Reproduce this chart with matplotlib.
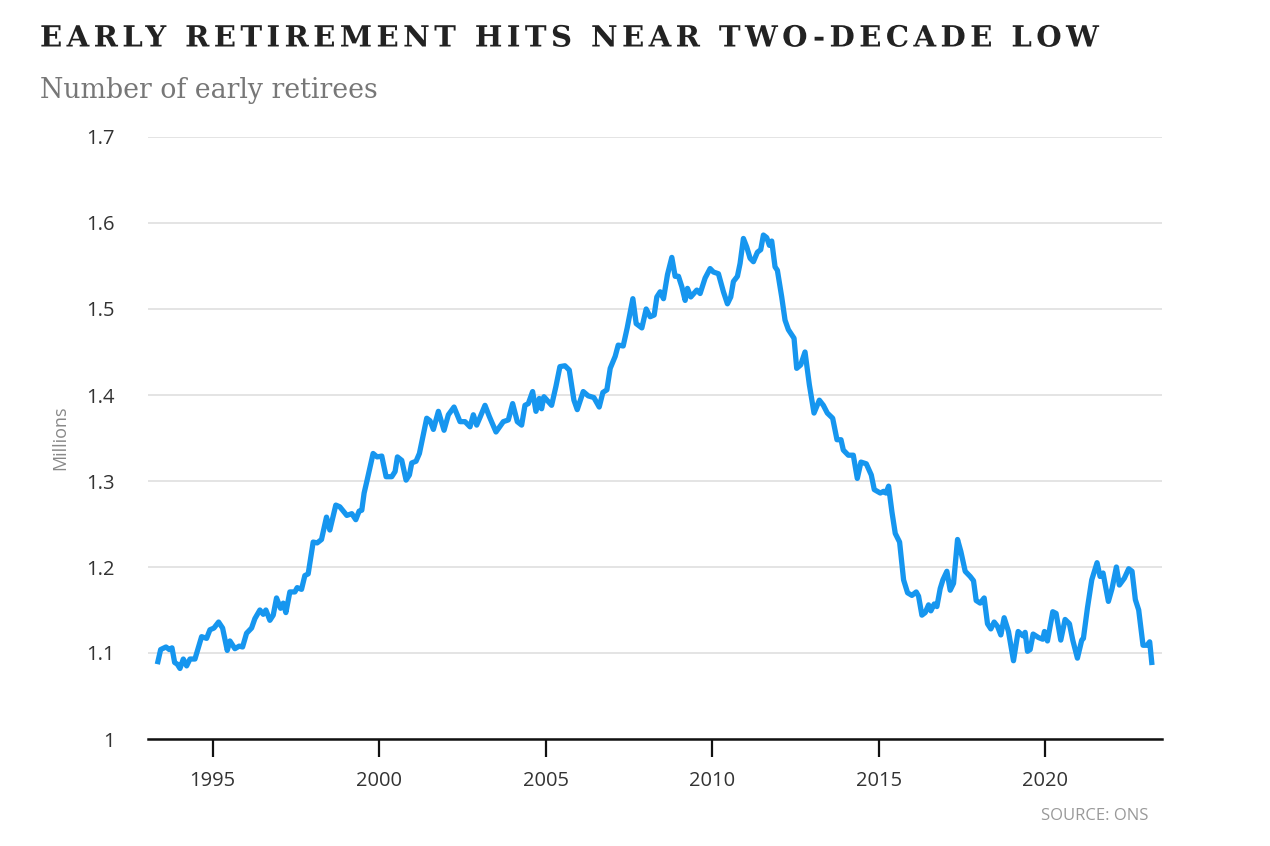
import numpy as np
import matplotlib
matplotlib.use("Agg")
import matplotlib.pyplot as plt
from matplotlib.path import Path
from matplotlib.patheffects import AbstractPathEffect
from matplotlib.transforms import IdentityTransform

# Early retirees (millions); x is decimal year
years = [
    1993.34, 1993.44, 1993.60, 1993.70, 1993.78, 1993.86, 1993.94, 1994.02,
    1994.12, 1994.22, 1994.32, 1994.47, 1994.67, 1994.82, 1994.92, 1995.04,
    1995.18, 1995.30, 1995.44, 1995.52, 1995.67, 1995.80, 1995.90, 1996.02,
    1996.17, 1996.27, 1996.42, 1996.52, 1996.60, 1996.72, 1996.82, 1996.92,
    1997.04, 1997.12, 1997.20, 1997.32, 1997.47, 1997.54, 1997.67, 1997.77,
    1997.87, 1998.02, 1998.14, 1998.27, 1998.42, 1998.52, 1998.70, 1998.82,
    1999.03, 1999.18, 1999.30, 1999.40, 1999.48, 1999.55, 1999.64, 1999.82,
    1999.94, 2000.08, 2000.21, 2000.38, 2000.48, 2000.55, 2000.68, 2000.81,
    2000.91, 2000.98, 2001.11, 2001.21, 2001.43, 2001.53, 2001.63, 2001.78,
    2001.95, 2002.08, 2002.25, 2002.43, 2002.58, 2002.73, 2002.83, 2002.93,
    2003.03, 2003.18, 2003.31, 2003.51, 2003.73, 2003.88, 2004.01, 2004.15,
    2004.28, 2004.38, 2004.48, 2004.61, 2004.71, 2004.81, 2004.88, 2004.95,
    2005.18, 2005.31, 2005.43, 2005.58, 2005.71, 2005.85, 2005.95, 2006.13,
    2006.28, 2006.45, 2006.61, 2006.72, 2006.84, 2006.94, 2007.09, 2007.18,
    2007.33, 2007.45, 2007.62, 2007.72, 2007.89, 2008.02, 2008.14, 2008.26,
    2008.34, 2008.44, 2008.54, 2008.66, 2008.79, 2008.89, 2008.99, 2009.09,
    2009.19, 2009.26, 2009.36, 2009.54, 2009.64, 2009.79, 2009.94, 2010.04,
    2010.19, 2010.34, 2010.46, 2010.56, 2010.64, 2010.76, 2010.84, 2010.94,
    2011.04, 2011.14, 2011.24, 2011.36, 2011.46, 2011.54, 2011.64, 2011.72,
    2011.79, 2011.89, 2011.96, 2012.09, 2012.19, 2012.29, 2012.46, 2012.54,
    2012.66, 2012.79, 2012.92, 2013.06, 2013.22, 2013.34, 2013.46, 2013.62,
    2013.75, 2013.87, 2013.94, 2014.09, 2014.24, 2014.36, 2014.47, 2014.63,
    2014.78, 2014.87, 2015.05, 2015.15, 2015.22, 2015.30, 2015.40, 2015.50,
    2015.63, 2015.75, 2015.87, 2016.00, 2016.13, 2016.20, 2016.30, 2016.40,
    2016.50, 2016.57, 2016.67, 2016.75, 2016.85, 2016.93, 2017.05, 2017.15,
    2017.25, 2017.37, 2017.47, 2017.60, 2017.75, 2017.85, 2017.93, 2018.05,
    2018.17, 2018.27, 2018.37, 2018.47, 2018.57, 2018.67, 2018.77, 2018.90,
    2019.05, 2019.19, 2019.33, 2019.40, 2019.47, 2019.55, 2019.64, 2019.80,
    2019.93, 2019.98, 2020.07, 2020.23, 2020.33, 2020.47, 2020.60, 2020.73,
    2020.83, 2020.97, 2021.10, 2021.15, 2021.27, 2021.40, 2021.56, 2021.65,
    2021.74, 2021.90, 2022.01, 2022.14, 2022.23, 2022.38, 2022.51, 2022.61,
    2022.71, 2022.81, 2022.94, 2023.06, 2023.14, 2023.21,
]
retirees = [
    1.087, 1.104, 1.107, 1.104, 1.106, 1.089, 1.087, 1.082,
    1.093, 1.085, 1.093, 1.093, 1.119, 1.117, 1.127, 1.129,
    1.136, 1.129, 1.103, 1.114, 1.105, 1.108, 1.107, 1.123,
    1.129, 1.140, 1.150, 1.145, 1.150, 1.138, 1.144, 1.164,
    1.152, 1.158, 1.147, 1.171, 1.171, 1.176, 1.174, 1.190,
    1.192, 1.229, 1.228, 1.232, 1.258, 1.243, 1.272, 1.270,
    1.260, 1.262, 1.255, 1.265, 1.266, 1.286, 1.301, 1.332,
    1.328, 1.329, 1.305, 1.305, 1.311, 1.328, 1.324, 1.301,
    1.307, 1.321, 1.323, 1.332, 1.373, 1.370, 1.360, 1.381,
    1.359, 1.377, 1.386, 1.369, 1.369, 1.363, 1.377, 1.365,
    1.374, 1.388, 1.375, 1.357, 1.369, 1.371, 1.390, 1.369,
    1.365, 1.388, 1.390, 1.404, 1.381, 1.396, 1.384, 1.398,
    1.388, 1.410, 1.433, 1.434, 1.429, 1.394, 1.383, 1.404,
    1.399, 1.397, 1.386, 1.403, 1.406, 1.431, 1.445, 1.458,
    1.457, 1.478, 1.512, 1.483, 1.478, 1.500, 1.491, 1.493,
    1.514, 1.520, 1.512, 1.540, 1.560, 1.538, 1.538, 1.526,
    1.510, 1.524, 1.514, 1.522, 1.518, 1.536, 1.547, 1.543,
    1.541, 1.520, 1.506, 1.514, 1.532, 1.538, 1.553, 1.582,
    1.572, 1.559, 1.555, 1.566, 1.569, 1.586, 1.583, 1.574,
    1.579, 1.549, 1.545, 1.514, 1.487, 1.476, 1.466, 1.431,
    1.435, 1.450, 1.412, 1.379, 1.394, 1.388, 1.379, 1.373,
    1.348, 1.348, 1.336, 1.330, 1.330, 1.303, 1.322, 1.320,
    1.307, 1.290, 1.286, 1.288, 1.286, 1.294, 1.264, 1.239,
    1.229, 1.185, 1.170, 1.167, 1.171, 1.166, 1.144, 1.147,
    1.156, 1.149, 1.157, 1.154, 1.175, 1.185, 1.195, 1.173,
    1.181, 1.232, 1.218, 1.195, 1.189, 1.184, 1.161, 1.158,
    1.164, 1.134, 1.128, 1.136, 1.131, 1.121, 1.141, 1.125,
    1.091, 1.125, 1.120, 1.124, 1.102, 1.104, 1.122, 1.118,
    1.116, 1.125, 1.114, 1.148, 1.146, 1.115, 1.139, 1.134,
    1.115, 1.094, 1.115, 1.117, 1.152, 1.185, 1.205, 1.189,
    1.193, 1.160, 1.175, 1.200, 1.179, 1.187, 1.198, 1.195,
    1.162, 1.150, 1.109, 1.109, 1.113, 1.086,
]

x_ticks = [1995, 2000, 2005, 2010, 2015, 2020]
y_ticks = [1.0, 1.1, 1.2, 1.3, 1.4, 1.5, 1.6, 1.7]
y_labels = ["1", "1.1", "1.2", "1.3", "1.4", "1.5", "1.6", "1.7"]

TITLE = "EARLY RETIREMENT HITS NEAR TWO-DECADE LOW"
SUBTITLE = "Number of early retirees"
SOURCE = "SOURCE: ONS"

LINE_COLOUR = "#1696ef"
SANS = ["Open Sans", "DejaVu Sans"]
SERIF = ["DejaVu Serif"]


class Tracking(AbstractPathEffect):
    """Letter-spacing for a text path: shifts each glyph right by
    (character index * px) so the title keeps the wide tracking."""

    def __init__(self, text, px):
        super().__init__()
        self._idx = [i for i, c in enumerate(text) if not c.isspace()]
        self._px = px

    def draw_path(self, renderer, gc, tpath, affine, rgbFace=None):
        path = affine.transform_path(tpath)
        verts = path.vertices.copy()
        codes = path.codes
        starts = list(np.where(codes == Path.MOVETO)[0]) + [len(codes)]
        glyph = -1
        g_lo = g_hi = None
        for s, e in zip(starts[:-1], starts[1:]):
            real = codes[s:e] != Path.CLOSEPOLY
            xs = verts[s:e][real, 0]
            lo, hi = xs.min(), xs.max()
            # a contour starting past the middle of the current glyph
            # belongs to the next one
            if g_lo is None or lo > (g_lo + g_hi) / 2:
                glyph += 1
                g_lo, g_hi = lo, hi
            else:
                g_lo, g_hi = min(g_lo, lo), max(g_hi, hi)
            k = self._idx[min(glyph, len(self._idx) - 1)]
            verts[s:e, 0] += k * self._px
        renderer.draw_path(gc, Path(verts, codes), IdentityTransform(),
                           rgbFace)


fig = plt.figure(figsize=(12.7, 8.46), dpi=100)
ax = fig.add_axes([148 / 1270, 1 - 739 / 846, (1162 - 148) / 1270,
                   (739 - 137) / 846])

ax.plot(years, retirees, color=LINE_COLOUR, lw=3.8,
        solid_joinstyle="round", solid_capstyle="butt", zorder=3)

ax.set_xlim(1993.06, 2023.51)
ax.set_ylim(1.0, 1.7)

ax.set_xticks(x_ticks)
ax.set_xticklabels([str(t) for t in x_ticks], fontsize=14.5, family=SANS,
                   color="#333333")
ax.set_yticks(y_ticks)
ax.set_yticklabels(y_labels, fontsize=14.5, family=SANS, color="#333333")
ax.tick_params(axis="x", direction="out", length=13, width=1.6,
               color="#111111", pad=10)
ax.tick_params(axis="y", length=0, pad=24)

ax.grid(axis="y", color="#e2e2e2", lw=1.3, zorder=0)
ax.grid(axis="x", visible=False)
for side in ("top", "right", "left"):
    ax.spines[side].set_visible(False)
ax.spines["bottom"].set_color("#111111")
ax.spines["bottom"].set_linewidth(1.8)
ax.spines["bottom"].set_zorder(4)

ax.set_ylabel("Millions", fontsize=13, family=SANS, color="#888888")
ax.yaxis.set_label_coords(-79 / 1014, 0.5)

title = fig.text(40 / 1270, 1 - 38 / 846, TITLE, family=SERIF,
                 fontweight="bold", fontsize=21, color="#222222",
                 va="center", ha="left")
title.set_path_effects([Tracking(TITLE, 4.4)])
fig.text(40 / 1270, 1 - 90 / 846, SUBTITLE, family=SERIF, fontsize=19.3,
         color="#777777", va="center", ha="left")
fig.text(1148 / 1270, 1 - 816 / 846, SOURCE, family=SANS, fontsize=12,
         color="#999999", va="center", ha="right")

fig.savefig("out.png", dpi=100)
